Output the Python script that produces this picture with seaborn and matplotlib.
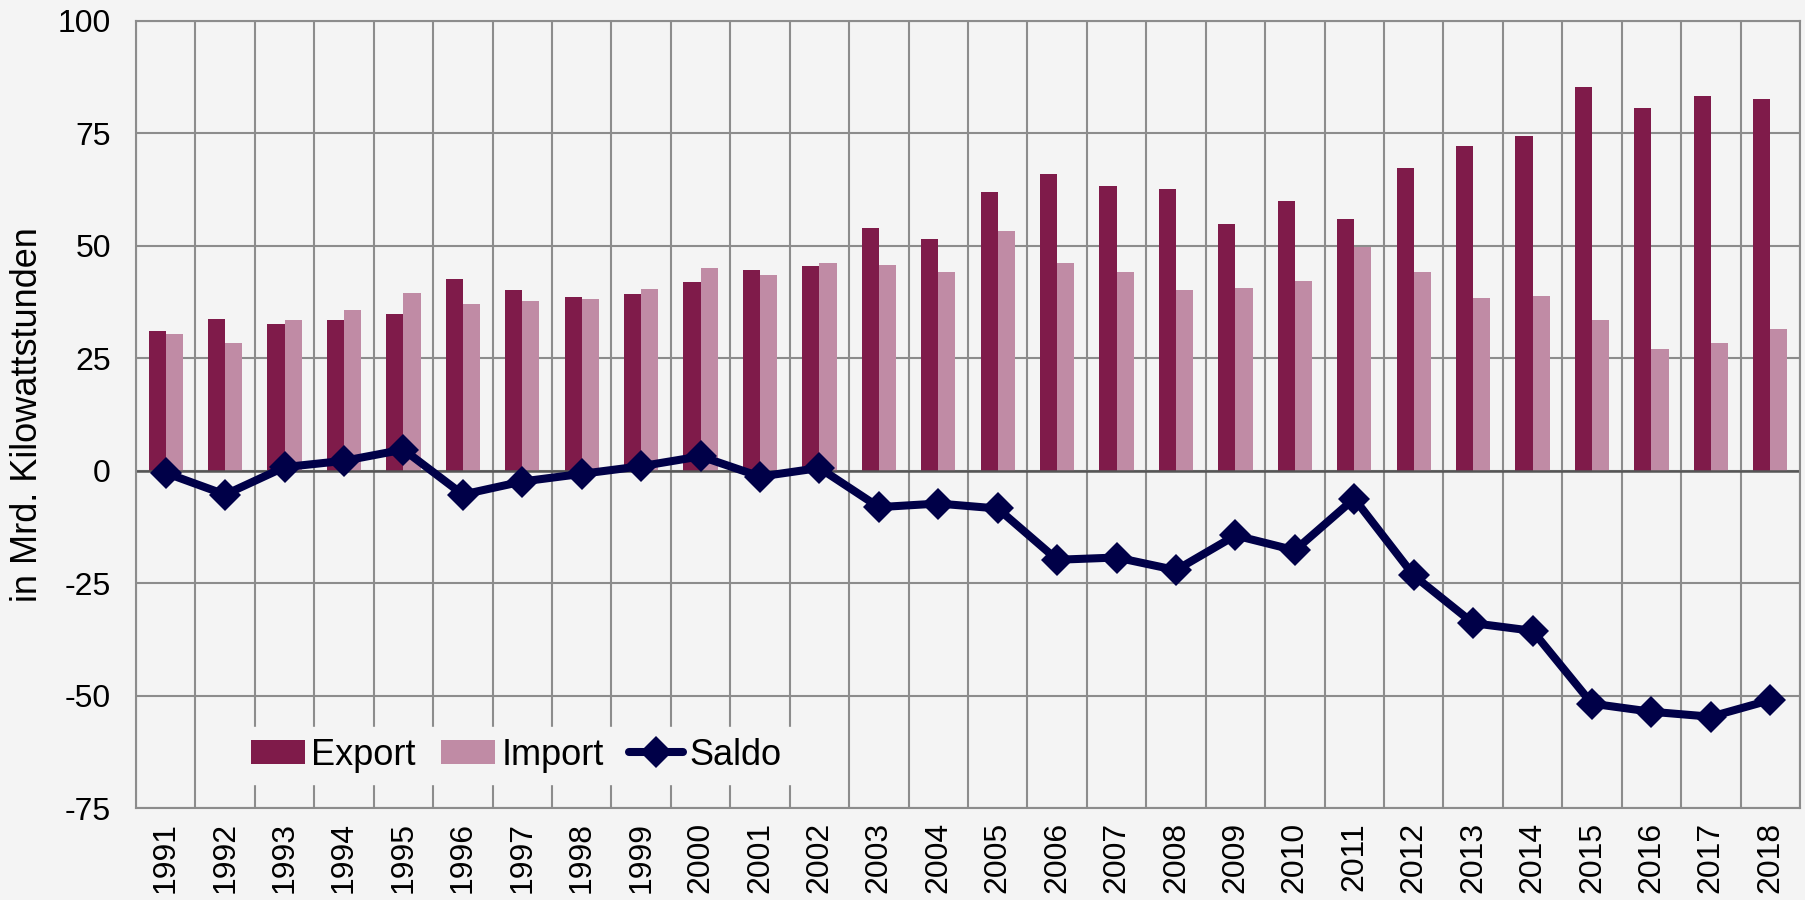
import numpy as np
import pandas as pd
import matplotlib
matplotlib.use("Agg")
import matplotlib.pyplot as plt
import seaborn as sns

# Stromaustausch Deutschland, Werte in Mrd. kWh
jahre = list(range(1991, 2019))
export = [31.0, 33.7, 32.7, 33.5, 34.9, 42.6, 40.2, 38.7, 39.4, 41.9,
          44.7, 45.5, 53.9, 51.5, 61.9, 65.9, 63.3, 62.7, 54.9, 59.9,
          56.0, 67.3, 72.2, 74.5, 85.3, 80.7, 83.3, 82.7]
importe = [30.4, 28.4, 33.6, 35.7, 39.5, 37.1, 37.8, 38.1, 40.4, 45.1,
           43.5, 46.2, 45.7, 44.1, 53.4, 46.1, 44.2, 40.2, 40.6, 42.2,
           49.8, 44.2, 38.4, 38.8, 33.6, 27.0, 28.4, 31.6]
saldo = [-0.5, -5.3, 0.8, 2.2, 4.7, -5.3, -2.4, -0.7, 1.0, 3.2,
         -1.3, 0.6, -8.1, -7.3, -8.4, -19.8, -19.3, -22.1, -14.4, -17.7,
         -6.2, -23.3, -33.9, -35.6, -51.8, -53.6, -54.7, -51.0]

farben = {"Export": "#7f1b4a", "Import": "#c08ba5"}
bg = "#f4f4f4"
gitter = "#8c8c8c"

sns.set_theme(style="whitegrid")
plt.rcParams["font.family"] = ["Liberation Sans", "DejaVu Sans"]
plt.rcParams["axes.unicode_minus"] = False
plt.rcParams["text.color"] = "black"
plt.rcParams["axes.labelcolor"] = "black"
plt.rcParams["xtick.color"] = "black"
plt.rcParams["ytick.color"] = "black"

df = pd.DataFrame({
    "Jahr": jahre * 2,
    "Wert": export + importe,
    "Art": ["Export"] * len(jahre) + ["Import"] * len(jahre),
})

fig = plt.figure(figsize=(18.06, 9), dpi=100, facecolor=bg)
ax = fig.add_axes([136 / 1806, 1 - 808 / 900, (1800 - 136) / 1806, (808 - 21) / 900])
ax.set_facecolor(bg)

sns.barplot(data=df, x="Jahr", y="Wert", hue="Art", palette=farben,
            width=0.575, saturation=1, linewidth=0, ax=ax)
sns.lineplot(x=np.arange(len(jahre)), y=saldo, color="#000048", linewidth=5.8,
             marker="D", markersize=16, markeredgewidth=0, label="Saldo", ax=ax)

ax.set_xlim(-0.5, len(jahre) - 0.5)
ax.set_ylim(-75, 100)
ax.set_yticks(np.arange(-75, 101, 25))
ax.set_xticks(np.arange(-0.5, len(jahre), 1), minor=True)

ax.set_axisbelow(True)
ax.grid(False)
ax.grid(which="major", axis="y", color=gitter, linewidth=1.5)
ax.grid(which="minor", axis="x", color=gitter, linewidth=1.5)
ax.axhline(0, color="#555555", linewidth=1.8, zorder=1.5)
for s in ax.spines.values():
    s.set_color(gitter)
    s.set_linewidth(1.5)

ax.tick_params(axis="x", which="both", length=0, pad=10, labelsize=23,
               labelrotation=90, labelcolor="black")
ax.tick_params(axis="y", length=0, pad=18, labelsize=23, labelcolor="black")
ax.set_xlabel("")
ax.set_ylabel("in Mrd. Kilowattstunden", fontsize=26, labelpad=9, color="black")

handles, labels = ax.get_legend_handles_labels()
leg = ax.legend(handles, labels, loc="center left", bbox_to_anchor=(0.0625, 0.067),
                ncol=3, fontsize=26, frameon=True, facecolor=bg, edgecolor=bg,
                framealpha=1, borderaxespad=0, borderpad=0.3, handlelength=1.5,
                handleheight=0.65, handletextpad=0.17, columnspacing=0.7,
                fancybox=False, labelcolor="black")

fig.savefig("out.png", dpi=100, facecolor=bg)
